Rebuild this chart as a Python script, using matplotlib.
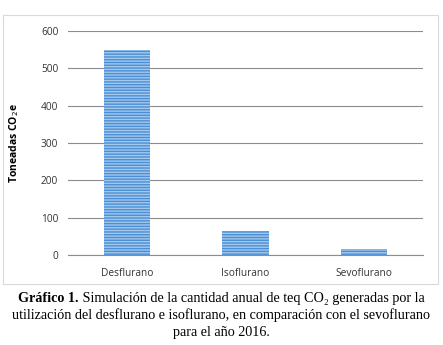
import matplotlib
matplotlib.use("Agg")
import matplotlib.pyplot as plt
from matplotlib.patches import Rectangle

# data
farmacos = ["Desflurano", "Isoflurano", "Sevoflurano"]
toneladas = [550, 65, 17]
y_ticks = [0, 100, 200, 300, 400, 500, 600]

W, H = 443, 345
fig = plt.figure(figsize=(W / 100, H / 100), dpi=100)
fig.patch.set_facecolor("white")

# outer chart border (Excel-like frame)
fig.patches.append(Rectangle((3 / W, 1 - 284 / H), 435 / W, 269 / H,
                             transform=fig.transFigure, fill=False,
                             edgecolor="#d9d9d9", lw=0.8))

ax = fig.add_axes([68 / W, 1 - 255 / H, 355 / W, 224 / H])
plt.rcParams["hatch.linewidth"] = 1.0
ax.bar(range(len(farmacos)), toneladas, width=0.39, color="#a3c8ec",
       edgecolor="#4a8fd6", hatch="------", lw=0, zorder=3)
ax.set_xlim(-0.5, 2.5)
ax.set_ylim(0, 600)
ax.set_yticks(y_ticks)
ax.set_xticks(range(len(farmacos)))
ax.set_xticklabels(farmacos)
ax.yaxis.grid(True, color="#8c8c8c", lw=0.8, zorder=0)
for s in ["left", "right", "top"]:
    ax.spines[s].set_visible(False)
ax.spines["bottom"].set_color("#8c8c8c")
ax.tick_params(length=0, labelsize=7.3, colors="#333333", pad=7)
ax.tick_params(axis="x", pad=9)
for lab in ax.get_xticklabels() + ax.get_yticklabels():
    lab.set_family("Open Sans")
ax.set_ylabel("Toneadas CO$_2$e", fontsize=7.5, fontweight="bold",
              family="Open Sans", labelpad=14)

# caption in serif, first line has a bold lead
serif = ["Liberation Serif", "DejaVu Serif"]
fs = 10.2
r = fig.canvas.get_renderer()
t1 = fig.text(0, 0, "Gráfico 1.", family=serif, fontsize=fs, fontweight="bold")
t2 = fig.text(0, 0, " Simulación de la cantidad anual de teq CO₂ generadas por la",
              family=serif, fontsize=fs)
w1 = t1.get_window_extent(r).width / W
w2 = t2.get_window_extent(r).width / W
x0 = 0.5 - (w1 + w2) / 2
y1 = 1 - 302 / H
t1.set_position((x0, y1))
t2.set_position((x0 + w1, y1))
fig.text(0.5, 1 - 319 / H,
         "utilización del desflurano e isoflurano, en comparación con el sevoflurano",
         family=serif, fontsize=fs, ha="center")
fig.text(0.5, 1 - 336 / H, "para el año 2016.", family=serif, fontsize=fs, ha="center")

fig.savefig("out.png", dpi=100)
